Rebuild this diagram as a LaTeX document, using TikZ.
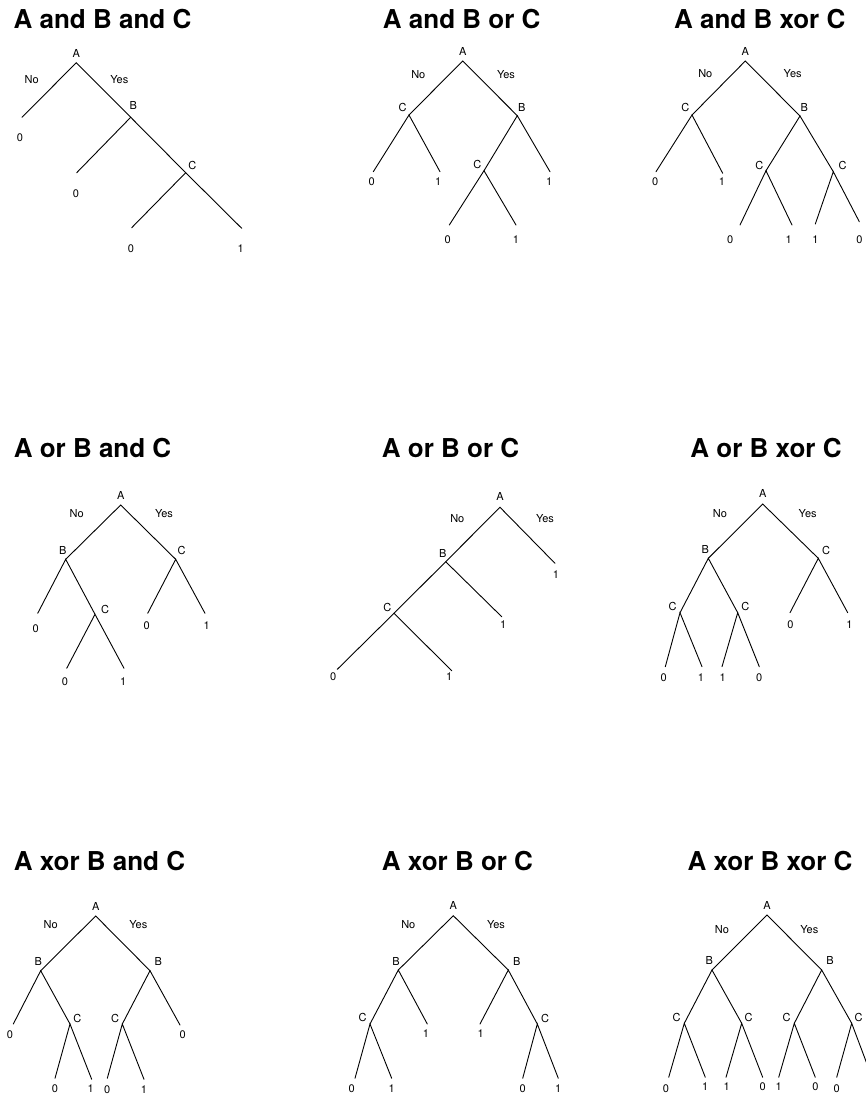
\documentclass[tikz,border=0pt]{standalone}
\usepackage{fontspec}
\setmainfont{TeX Gyre Heros}
\begin{document}
\begin{tikzpicture}[x=1pt,y=-1pt,
  ttl/.style={font=\fontsize{26}{30}\selectfont\bfseries, anchor=base, inner sep=0pt},
  lbl/.style={font=\fontsize{11}{13}\selectfont, inner sep=0pt},
  br/.style={line width=0.9pt, line cap=round}]
\useasboundingbox (0,0) rectangle (866,1098);
\clip (0,0) rectangle (866,1098);
\fill[white] (0,0) rectangle (866,1098);

% ================= Panel 1: A and B and C
\node[ttl] (t1) at (102.5,28.3) {A and B and C};
\coordinate (p1a) at (76.3,62.7);
\coordinate (p1b) at (130.7,117.3);
\coordinate (p1c) at (185.7,172.7);
\coordinate (p1l1) at (22,117.3);
\coordinate (p1l2) at (76.7,172.7);
\coordinate (p1l3) at (131.7,227.7);
\coordinate (p1l4) at (241.7,228.3);
\node[lbl] (p1A) at (76.3,53.3) {A};
\node[lbl] (p1no) at (31.7,79.3) {No};
\node[lbl] (p1yes) at (119.3,79.3) {Yes};
\node[lbl] (p1B) at (133.3,105) {B};
\node[lbl] (p1C) at (192.3,165) {C};
\node[lbl] (p1v1) at (20,137.7) {0};
\node[lbl] (p1v2) at (76,194) {0};
\node[lbl] (p1v3) at (131,248.3) {0};
\node[lbl] (p1v4) at (240.7,248.3) {1};
\draw[br] (p1l1) -- (p1a) -- (p1b) -- (p1c) -- (p1l4);
\draw[br] (p1b) -- (p1l2);
\draw[br] (p1c) -- (p1l3);

% ================= Panel 2: A and B or C
\node[ttl] (t2) at (461.7,28.3) {A and B or C};
\coordinate (p2a) at (462.7,61);
\coordinate (p2cl) at (409,115);
\coordinate (p2b) at (517.3,115.7);
\coordinate (p2cr) at (484,170.7);
\coordinate (p2l1) at (373.3,171.7);
\coordinate (p2l2) at (440,171.7);
\coordinate (p2l3) at (550,171.7);
\coordinate (p2l4) at (449.3,225);
\coordinate (p2l5) at (516,225);
\node[lbl] (p2A) at (462.7,51.7) {A};
\node[lbl] (p2no) at (418.3,75) {No};
\node[lbl] (p2yes) at (506,75) {Yes};
\node[lbl] (p2C1) at (402.7,107.3) {C};
\node[lbl] (p2B) at (521.7,107.3) {B};
\node[lbl] (p2C2) at (477.3,164) {C};
\node[lbl] (p2v1) at (371.7,181.7) {0};
\node[lbl] (p2v2) at (438.3,181.7) {1};
\node[lbl] (p2v3) at (549.3,181.7) {1};
\node[lbl] (p2v4) at (447.7,239.3) {0};
\node[lbl] (p2v5) at (516,239.3) {1};
\draw[br] (p2cl) -- (p2a) -- (p2b);
\draw[br] (p2l1) -- (p2cl) -- (p2l2);
\draw[br] (p2cr) -- (p2b) -- (p2l3);
\draw[br] (p2l4) -- (p2cr) -- (p2l5);

% ================= Panel 3: A and B xor C
\node[ttl] (t3) at (759.7,28.3) {A and B xor C};
\coordinate (p3a) at (745.3,61);
\coordinate (p3cl) at (692,115);
\coordinate (p3b) at (800,116);
\coordinate (p3c1) at (766,170.7);
\coordinate (p3c2) at (833.3,171.7);
\coordinate (p3l1) at (656,171.7);
\coordinate (p3l2) at (722.7,173.3);
\coordinate (p3l3) at (740,225);
\coordinate (p3l4) at (792,225);
\coordinate (p3l5) at (815.3,224);
\coordinate (p3l6) at (859.3,221.7);
\node[lbl] (p3A) at (745.3,51.7) {A};
\node[lbl] (p3no) at (705.3,73.3) {No};
\node[lbl] (p3yes) at (792.7,73.3) {Yes};
\node[lbl] (p3C0) at (685.3,107.3) {C};
\node[lbl] (p3B) at (804.3,107.3) {B};
\node[lbl] (p3C1) at (759.3,165) {C};
\node[lbl] (p3C2) at (842.7,165) {C};
\node[lbl] (p3v1) at (655.3,181.7) {0};
\node[lbl] (p3v2) at (722,181.7) {1};
\node[lbl] (p3v3) at (730.3,239.3) {0};
\node[lbl] (p3v4) at (788.7,239.3) {1};
\node[lbl] (p3v5) at (815.3,239.3) {1};
\node[lbl] (p3v6) at (859.3,239.3) {0};
\draw[br] (p3cl) -- (p3a) -- (p3b);
\draw[br] (p3l1) -- (p3cl) -- (p3l2);
\draw[br] (p3c1) -- (p3b) -- (p3c2);
\draw[br] (p3l3) -- (p3c1) -- (p3l4);
\draw[br] (p3l5) -- (p3c2) -- (p3l6);

% ================= Panel 4: A or B and C
\node[ttl] (t4) at (92.5,457.3) {A or B and C};
\coordinate (p4a) at (120.7,505);
\coordinate (p4b) at (65.7,559.3);
\coordinate (p4cr) at (175.7,559.3);
\coordinate (p4ci) at (95,614.3);
\coordinate (p4l1) at (37.7,613.3);
\coordinate (p4l2) at (66.7,668.3);
\coordinate (p4l3) at (124,668.3);
\coordinate (p4l4) at (147.7,613.3);
\coordinate (p4l5) at (205,613.3);
\node[lbl] (p4A) at (120.7,495) {A};
\node[lbl] (p4no) at (76.7,514) {No};
\node[lbl] (p4yes) at (164,514) {Yes};
\node[lbl] (p4B) at (62.7,550) {B};
\node[lbl] (p4C1) at (181.7,550) {C};
\node[lbl] (p4C2) at (105,609) {C};
\node[lbl] (p4v1) at (35.7,628.3) {0};
\node[lbl] (p4v2) at (65,681.7) {0};
\node[lbl] (p4v3) at (123.3,681.7) {1};
\node[lbl] (p4v4) at (146.7,626) {0};
\node[lbl] (p4v5) at (206.7,626) {1};
\draw[br] (p4b) -- (p4a) -- (p4cr);
\draw[br] (p4l1) -- (p4b) -- (p4ci);
\draw[br] (p4l2) -- (p4ci) -- (p4l3);
\draw[br] (p4l4) -- (p4cr) -- (p4l5);

% ================= Panel 5: A or B or C
\node[ttl] (t5) at (450.5,457.3) {A or B or C};
\coordinate (p5a) at (500,507.3);
\coordinate (p5b) at (445.7,561.7);
\coordinate (p5c) at (394,613.3);
\coordinate (p5l1) at (555,563.3);
\coordinate (p5l2) at (501.7,616.7);
\coordinate (p5l3) at (337.3,669.3);
\coordinate (p5l4) at (451.7,670.7);
\node[lbl] (p5A) at (500,496.7) {A};
\node[lbl] (p5no) at (457.3,518.3) {No};
\node[lbl] (p5yes) at (545,518.3) {Yes};
\node[lbl] (p5B) at (442.7,553.3) {B};
\node[lbl] (p5C) at (387.3,607.3) {C};
\node[lbl] (p5v1) at (556,575) {1};
\node[lbl] (p5v2) at (503.3,625) {1};
\node[lbl] (p5v3) at (333.3,676.7) {0};
\node[lbl] (p5v4) at (449.3,676.7) {1};
\draw[br] (p5l3) -- (p5c) -- (p5b) -- (p5a) -- (p5l1);
\draw[br] (p5b) -- (p5l2);
\draw[br] (p5c) -- (p5l4);

% ================= Panel 6: A or B xor C
\node[ttl] (t6) at (766,457.3) {A or B xor C};
\coordinate (p6a) at (762.7,504);
\coordinate (p6b) at (708.3,558.3);
\coordinate (p6cr) at (818.3,558.3);
\coordinate (p6c1) at (680,612.7);
\coordinate (p6c2) at (737.7,612.7);
\coordinate (p6l1) at (790,612.7);
\coordinate (p6l2) at (847.7,612.7);
\coordinate (p6l3) at (665.3,666.7);
\coordinate (p6l4) at (702,666.7);
\coordinate (p6l5) at (722,666.7);
\coordinate (p6l6) at (759.3,666.7);
\node[lbl] (p6A) at (762.7,493.3) {A};
\node[lbl] (p6no) at (720,514) {No};
\node[lbl] (p6yes) at (807.7,514) {Yes};
\node[lbl] (p6B) at (705.3,549.3) {B};
\node[lbl] (p6C0) at (826,550.7) {C};
\node[lbl] (p6C1) at (672.7,606) {C};
\node[lbl] (p6C2) at (745.3,606) {C};
\node[lbl] (p6v1) at (790.3,625) {0};
\node[lbl] (p6v2) at (849.3,625) {1};
\node[lbl] (p6v3) at (663.7,677.3) {0};
\node[lbl] (p6v4) at (701,677.3) {1};
\node[lbl] (p6v5) at (722.7,677.3) {1};
\node[lbl] (p6v6) at (759.3,677.3) {0};
\draw[br] (p6b) -- (p6a) -- (p6cr);
\draw[br] (p6l1) -- (p6cr) -- (p6l2);
\draw[br] (p6c1) -- (p6b) -- (p6c2);
\draw[br] (p6l3) -- (p6c1) -- (p6l4);
\draw[br] (p6l5) -- (p6c2) -- (p6l6);

% ================= Panel 7: A xor B and C
\node[ttl] (t7) at (99.5,870) {A xor B and C};
\coordinate (p7a) at (95.7,916);
\coordinate (p7bl) at (40.7,970.7);
\coordinate (p7br) at (150,970.7);
\coordinate (p7cl) at (70,1024);
\coordinate (p7cr) at (122.3,1024);
\coordinate (p7l1) at (13.3,1024);
\coordinate (p7l2) at (180,1025);
\coordinate (p7l3) at (55,1078.3);
\coordinate (p7l4) at (91.7,1079.3);
\coordinate (p7l5) at (107.3,1078.3);
\coordinate (p7l6) at (144,1079.3);
\node[lbl] (p7A) at (95.7,906) {A};
\node[lbl] (p7no) at (50.7,925) {No};
\node[lbl] (p7yes) at (138.3,925) {Yes};
\node[lbl] (p7B1) at (38.3,961) {B};
\node[lbl] (p7B2) at (158.3,961.7) {B};
\node[lbl] (p7C1) at (77.3,1018.3) {C};
\node[lbl] (p7C2) at (115,1018.3) {C};
\node[lbl] (p7v1) at (10,1035) {0};
\node[lbl] (p7v2) at (182.7,1035) {0};
\node[lbl] (p7v3) at (55,1088.3) {0};
\node[lbl] (p7v4) at (90.7,1088.3) {1};
\node[lbl] (p7v5) at (107.3,1089.3) {0};
\node[lbl] (p7v6) at (144,1089.3) {1};
\draw[br] (p7bl) -- (p7a) -- (p7br);
\draw[br] (p7l1) -- (p7bl) -- (p7cl);
\draw[br] (p7cr) -- (p7br) -- (p7l2);
\draw[br] (p7l3) -- (p7cl) -- (p7l4);
\draw[br] (p7l5) -- (p7cr) -- (p7l6);

% ================= Panel 8: A xor B or C
\node[ttl] (t8) at (457.5,870.5) {A xor B or C};
\coordinate (p8a) at (453.3,915.7);
\coordinate (p8bl) at (398.3,970);
\coordinate (p8br) at (508.3,970);
\coordinate (p8cl) at (370,1024);
\coordinate (p8cr) at (537.3,1024);
\coordinate (p8l1) at (427.3,1024);
\coordinate (p8l2) at (480,1024);
\coordinate (p8l3) at (355,1078.3);
\coordinate (p8l4) at (391.7,1078.3);
\coordinate (p8l5) at (522.7,1078.3);
\coordinate (p8l6) at (558.3,1078.3);
\node[lbl] (p8A) at (453.3,905) {A};
\node[lbl] (p8no) at (408.3,925) {No};
\node[lbl] (p8yes) at (496,925) {Yes};
\node[lbl] (p8B1) at (396,961.7) {B};
\node[lbl] (p8B2) at (516.7,961.7) {B};
\node[lbl] (p8C1) at (362.7,1017.3) {C};
\node[lbl] (p8C2) at (545,1018.3) {C};
\node[lbl] (p8v1) at (426,1033.3) {1};
\node[lbl] (p8v2) at (480.7,1033.3) {1};
\node[lbl] (p8v3) at (351.7,1088.3) {0};
\node[lbl] (p8v4) at (391.7,1088.3) {1};
\node[lbl] (p8v5) at (522.7,1088.3) {0};
\node[lbl] (p8v6) at (558.3,1088.3) {1};
\draw[br] (p8bl) -- (p8a) -- (p8br);
\draw[br] (p8cl) -- (p8bl) -- (p8l1);
\draw[br] (p8l2) -- (p8br) -- (p8cr);
\draw[br] (p8l3) -- (p8cl) -- (p8l4);
\draw[br] (p8l5) -- (p8cr) -- (p8l6);

% ================= Panel 9: A xor B xor C
\node[ttl] (t9) at (770,870) {A xor B xor C};
\coordinate (p9a) at (767,915);
\coordinate (p9bl) at (712,970);
\coordinate (p9br) at (821.7,970);
\coordinate (p9c1) at (684.3,1023.3);
\coordinate (p9c2) at (741.7,1023.3);
\coordinate (p9c3) at (794.3,1023.3);
\coordinate (p9c4) at (851.7,1023.3);
\coordinate (p9l1) at (668.7,1077.3);
\coordinate (p9l2) at (705.3,1077.3);
\coordinate (p9l3) at (726,1077.3);
\coordinate (p9l4) at (762.7,1077.3);
\coordinate (p9l5) at (778.7,1077.3);
\coordinate (p9l6) at (815.3,1077.3);
\coordinate (p9l7) at (836.7,1077.3);
\coordinate (p9l8) at (872,1077.3);
\node[lbl] (p9A) at (767,905) {A};
\node[lbl] (p9no) at (722,930) {No};
\node[lbl] (p9yes) at (809.3,930) {Yes};
\node[lbl] (p9B1) at (709.3,960.7) {B};
\node[lbl] (p9B2) at (830,960.7) {B};
\node[lbl] (p9C1) at (676.7,1017.3) {C};
\node[lbl] (p9C2) at (748.7,1017.3) {C};
\node[lbl] (p9C3) at (786.7,1017.3) {C};
\node[lbl] (p9C4) at (858.7,1017.3) {C};
\node[lbl] (p9v1) at (666,1088.3) {0};
\node[lbl] (p9v2) at (705.3,1086.7) {1};
\node[lbl] (p9v3) at (726.7,1086.7) {1};
\node[lbl] (p9v4) at (762.7,1086.7) {0};
\node[lbl] (p9v5) at (778.7,1086.7) {1};
\node[lbl] (p9v6) at (815.3,1086.7) {0};
\node[lbl] (p9v7) at (836.7,1088.3) {0};
\draw[br] (p9bl) -- (p9a) -- (p9br);
\draw[br] (p9c1) -- (p9bl) -- (p9c2);
\draw[br] (p9c3) -- (p9br) -- (p9c4);
\draw[br] (p9l1) -- (p9c1) -- (p9l2);
\draw[br] (p9l3) -- (p9c2) -- (p9l4);
\draw[br] (p9l5) -- (p9c3) -- (p9l6);
\draw[br] (p9l7) -- (p9c4) -- (p9l8);
\end{tikzpicture}
\end{document}
